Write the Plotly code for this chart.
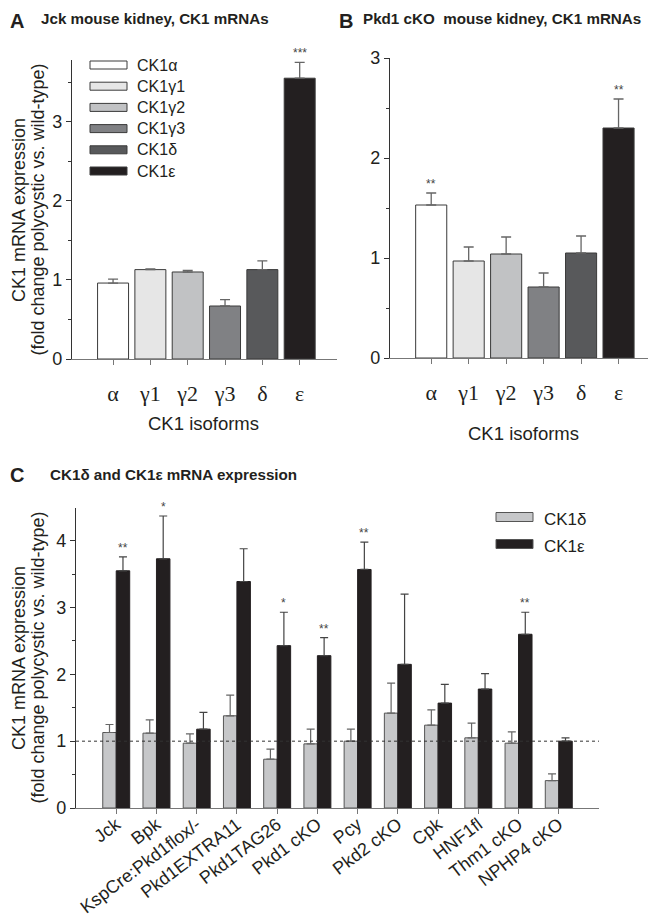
# Expresión de ARNm de CK1 en modelos de riñón poliquístico (paneles A, B y C).

import plotly.graph_objects as go

# Datos panel A (Jck) y B (Pkd1 cKO)
isoformas = ['α', 'γ1', 'γ2', 'γ3', 'δ', 'ε']
a_valores = [0.96, 1.13, 1.10, 0.67, 1.13, 3.55]
a_error = [0.05, 0.01, 0.02, 0.08, 0.11, 0.20]
a_signif = ['', '', '', '', '', '***']
b_valores = [1.53, 0.97, 1.04, 0.71, 1.05, 2.30]
b_error = [0.12, 0.14, 0.17, 0.14, 0.17, 0.29]
b_signif = ['**', '', '', '', '', '**']

# Datos panel C
modelos = ['Jck', 'Bpk', 'KspCre:Pkd1flox/-', 'Pkd1EXTRA11', 'Pkd1TAG26', 'Pkd1 cKO',
           'Pcy', 'Pkd2 cKO', 'Cpk', 'HNF1fl', 'Thm1 cKO', 'NPHP4 cKO']
c_delta = [1.13, 1.12, 0.97, 1.38, 0.73, 0.96, 1.00, 1.42, 1.24, 1.05, 0.97, 0.41]
c_delta_err = [0.12, 0.20, 0.14, 0.31, 0.15, 0.22, 0.18, 0.45, 0.23, 0.22, 0.17, 0.10]
c_epsilon = [3.55, 3.73, 1.18, 3.39, 2.43, 2.28, 3.57, 2.15, 1.57, 1.78, 2.60, 1.00]
c_epsilon_err = [0.21, 0.64, 0.25, 0.49, 0.50, 0.27, 0.41, 1.05, 0.28, 0.23, 0.33, 0.05]
c_signif = ['**', '*', '', '', '*', '**', '**', '', '', '', '**', '']

# Paleta de grises
GRISES = ['#ffffff', '#e6e6e6', '#c1c2c4', '#808184', '#58595b', '#231f20']
GRIS_DELTA = '#c6c7c9'
NEGRO = '#231f20'
TEXTO = '#231f20'
SANS = 'Arial, Liberation Sans, sans-serif'
SERIF = 'Times New Roman, Liberation Serif, serif'

# La página deja 8 px de margen (body); se compensa para ubicar todo en px de pantalla
OFF = 8
W, H = 656 - OFF, 918 - OFF


def px(x):
    return (x - OFF) / W


def py(y):
    return 1 - (y - OFF) / H


fig = go.Figure()


def barras_isoformas(valores, errores, eje):
    fig.add_trace(go.Bar(
        x=isoformas, y=valores, width=0.83,
        marker=dict(color=GRISES, line=dict(color='#3a3a3a', width=1)),
        error_y=dict(type='data', symmetric=False, array=errores,
                     arrayminus=[0] * len(errores), color='#666666',
                     thickness=1.3, width=5),
        xaxis='x' + eje, yaxis='y' + eje, showlegend=False,
    ))


barras_isoformas(a_valores, a_error, '')
barras_isoformas(b_valores, b_error, '2')

# Panel C
fig.add_trace(go.Bar(
    x=modelos, y=c_delta, width=0.335, offset=-0.335, name='CK1δ',
    marker=dict(color=GRIS_DELTA, line=dict(color='#555555', width=1)),
    error_y=dict(type='data', symmetric=False, array=c_delta_err,
                 arrayminus=[0] * len(c_delta_err), color='#666666',
                 thickness=1.2, width=4),
    xaxis='x3', yaxis='y3', showlegend=False,
))
fig.add_trace(go.Bar(
    x=modelos, y=c_epsilon, width=0.335, offset=0, name='CK1ε',
    marker=dict(color=NEGRO, line=dict(color=NEGRO, width=1)),
    error_y=dict(type='data', symmetric=False, array=c_epsilon_err,
                 arrayminus=[0] * len(c_epsilon_err), color='#444444',
                 thickness=1.2, width=4),
    xaxis='x3', yaxis='y3', showlegend=False,
))

# Asteriscos de significancia
anots = []
for ref, vals, errs, sig in [('', a_valores, a_error, a_signif),
                             ('2', b_valores, b_error, b_signif)]:
    for i, s in enumerate(sig):
        if s:
            anots.append(dict(x=i, y=vals[i] + errs[i], xref='x' + ref, yref='y' + ref,
                              text=s, showarrow=False, yanchor='bottom',
                              font=dict(size=12, color='#444444')))
for i, s in enumerate(c_signif):
    if s:
        anots.append(dict(x=i + 0.1675, y=c_epsilon[i] + c_epsilon_err[i], xref='x3', yref='y3',
                          text=s, showarrow=False, yanchor='bottom',
                          font=dict(size=12, color='#444444')))

# Títulos de paneles
for letra, x_l, titulo, x_t, y_l, y_t in [
    ('A', 9, 'Jck mouse kidney, CK1 mRNAs', 40, 21, 19),
    ('B', 338, 'Pkd1 cKO\u00a0 mouse kidney, CK1 mRNAs', 362, 21, 19),
    ('C', 9, 'CK1δ and CK1ε mRNA expression', 49, 475, 475),
]:
    anots.append(dict(x=px(x_l), y=py(y_l), xref='paper', yref='paper', text='<b>%s</b>' % letra,
                      showarrow=False, xanchor='left', yanchor='middle', borderpad=0,
                      font=dict(size=20, color=TEXTO, family=SANS)))
    anots.append(dict(x=px(x_t), y=py(y_t), xref='paper', yref='paper', text='<b>%s</b>' % titulo,
                      showarrow=False, xanchor='left', yanchor='middle', borderpad=0,
                      font=dict(size=15.2, color=TEXTO, family=SANS)))

# Títulos de ejes (dos líneas como anotaciones separadas)
for yc in [210, 658]:
    for xc, linea in [(19, 'CK1 mRNA expression'),
                      (37.5, '(fold change polycystic vs. wild-type)')]:
        anots.append(dict(x=px(xc), y=py(yc), xref='paper', yref='paper', text=linea,
                          textangle=-90, showarrow=False, xanchor='center', yanchor='middle',
                          borderpad=0, font=dict(size=18, color=TEXTO, family=SANS)))
for xc, yc in [(203, 424), (523, 433)]:
    anots.append(dict(x=px(xc), y=py(yc), xref='paper', yref='paper', text='CK1 isoforms',
                      showarrow=False, xanchor='center', yanchor='middle',
                      font=dict(size=18.5, color=TEXTO, family=SANS)))

# Leyendas dibujadas a mano (cajas anchas como en el original)
formas = []
etiquetas_a = ['CK1α', 'CK1γ1', 'CK1γ2', 'CK1γ3', 'CK1δ', 'CK1ε']
for i, (etq, col) in enumerate(zip(etiquetas_a, GRISES)):
    yc = 65 + i * 21.2
    formas.append(dict(type='rect', xref='paper', yref='paper',
                       x0=px(90), x1=px(127), y0=py(yc - 4), y1=py(yc + 4),
                       fillcolor=col, line=dict(color='#3a3a3a', width=1)))
    anots.append(dict(x=px(135), y=py(yc), xref='paper', yref='paper', text=etq,
                      showarrow=False, xanchor='left', yanchor='middle',
                      font=dict(size=16, color=TEXTO, family=SANS)))
for i, (etq, col) in enumerate([('CK1δ', GRIS_DELTA), ('CK1ε', NEGRO)]):
    yc = 517 + i * 27
    formas.append(dict(type='rect', xref='paper', yref='paper',
                       x0=px(496), x1=px(533), y0=py(yc - 4.5), y1=py(yc + 4.5),
                       fillcolor=col, line=dict(color='#555555', width=1)))
    anots.append(dict(x=px(542), y=py(yc + 2), xref='paper', yref='paper', text=etq,
                      showarrow=False, xanchor='left', yanchor='middle',
                      font=dict(size=17, color=TEXTO, family=SANS)))

# Línea punteada en 1
formas.append(dict(type='line', xref='x3 domain', yref='y3', x0=0, x1=1, y0=1, y1=1,
                   line=dict(color='#333333', width=1, dash='dot')))

eje_x = dict(showline=True, linecolor='#777777', linewidth=1.2, ticks='outside',
             ticklen=5, tickcolor='#777777', showgrid=False, zeroline=False,
             type='category', automargin=False)
eje_y = dict(showline=True, linecolor='#333333', linewidth=1.2, ticks='outside',
             ticklen=5, tickcolor='#333333', dtick=1, showgrid=False, zeroline=False,
             minor=dict(dtick=0.5, ticks='outside', ticklen=3, tickcolor='#333333'),
             tickfont=dict(size=18, color=TEXTO, family=SANS), automargin=False)

fig.update_layout(
    width=W, height=H,
    margin=dict(l=0, r=0, t=0, b=0),
    template='none',
    paper_bgcolor='white', plot_bgcolor='white',
    font=dict(family=SANS, color=TEXTO),
    xaxis=dict(eje_x, domain=[px(72), px(337)], range=[-1.1, 6.0], anchor='y',
               tickfont=dict(size=22, color=TEXTO, family=SERIF), ticklabelstandoff=9),
    yaxis=dict(eje_y, domain=[py(359), py(60)], range=[0, 3.78], anchor='x'),
    xaxis2=dict(eje_x, domain=[px(390), 1.0], range=[-1.1, 6.0], anchor='y2',
                tickfont=dict(size=22, color=TEXTO, family=SERIF), ticklabelstandoff=9),
    yaxis2=dict(eje_y, domain=[py(358), py(58)], range=[0, 3], anchor='x2'),
    xaxis3=dict(eje_x, domain=[px(76), px(599)], range=[-1, 12], anchor='y3',
                tickangle=-37, ticklabelstandoff=-7,
                tickfont=dict(size=18, color=TEXTO, family=SANS)),
    yaxis3=dict(eje_y, domain=[py(808), py(508)], range=[0, 4.49], anchor='x3'),
    annotations=anots,
    shapes=formas,
    barmode='overlay',
)

fig.write_html('out.html')
